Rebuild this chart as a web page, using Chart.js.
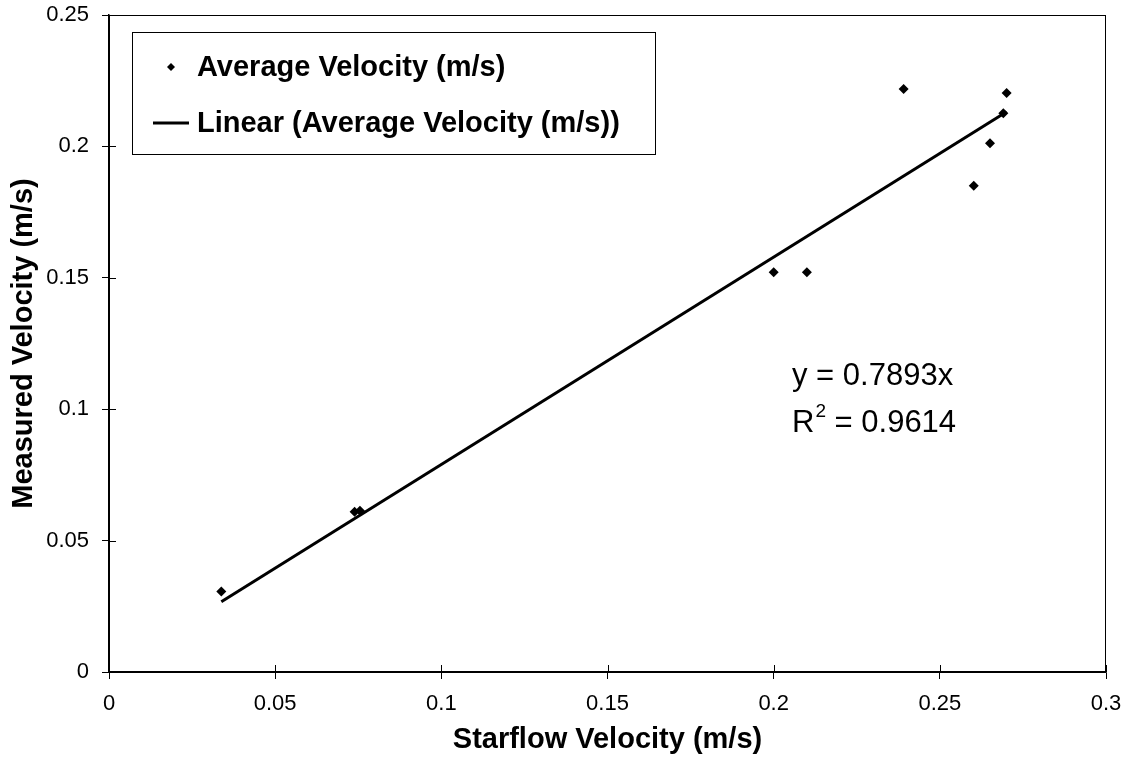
<!DOCTYPE html>
<html>
<head>
<meta charset="utf-8">
<script src="https://cdn.jsdelivr.net/npm/chart.js@4/dist/chart.umd.min.js"></script>
<style>
  html, body { margin: 0; padding: 0; background: #fff; }
  #wrap { width: 1128px; height: 761px; }
</style>
</head>
<body>
<div id="wrap"><canvas id="grafica"></canvas></div>
<script>
// valores
const starflowX = [0.0338, 0.0739, 0.0755, 0.2000, 0.2100, 0.2391, 0.2602, 0.2651, 0.2691, 0.2701];
const measuredY = [0.0306, 0.0610, 0.0614, 0.1521, 0.1521, 0.2218, 0.1850, 0.2012, 0.2126, 0.2203];
const trendX = [0.0338, 0.2701];
const trendY = [0.0267, 0.2132];
const xTicks = [0, 0.05, 0.1, 0.15, 0.2, 0.25, 0.3];
const yTicks = [0, 0.05, 0.1, 0.15, 0.2, 0.25];
const equationText = 'y = 0.7893x';
const r2Text = '0.9614';

const fuente = '"Liberation Sans", Arial, sans-serif';

const puntos = starflowX.map((x, i) => ({ x: x, y: measuredY[i] }));
const tendencia = trendX.map((x, i) => ({ x: x, y: trendY[i] }));

// marco, ticks cruzados, leyenda y ecuacion
const extras = {
    id: 'extras',
    afterDraw(chart) {
        const ctx = chart.ctx;
        const a = chart.chartArea;
        const sx = chart.scales.x, sy = chart.scales.y;
        ctx.save();
        ctx.strokeStyle = '#000';
        ctx.lineWidth = 1;
        ctx.strokeRect(a.left + 0.5, a.top + 0.5, a.right - a.left - 1, a.bottom - a.top);
        // parte interior de los ticks
        ctx.beginPath();
        xTicks.forEach(v => {
            const px = Math.round(sx.getPixelForValue(v)) + 0.5;
            ctx.moveTo(px, a.bottom);
            ctx.lineTo(px, a.bottom - 7);
        });
        yTicks.forEach(v => {
            const py = Math.round(sy.getPixelForValue(v)) + 0.5;
            ctx.moveTo(a.left, py);
            ctx.lineTo(a.left + 7, py);
        });
        ctx.stroke();

        // leyenda
        const lx = 132, ly = 32, lw = 523, lh = 122;
        ctx.fillStyle = '#fff';
        ctx.fillRect(lx, ly, lw, lh);
        ctx.strokeRect(lx + 0.5, ly + 0.5, lw, lh);
        const ds = chart.data.datasets;
        ctx.fillStyle = '#000';
        ctx.font = 'bold 29px ' + fuente;
        ctx.textBaseline = 'middle';
        ctx.textAlign = 'left';
        // fila 1: marcador
        const cy1 = ly + 35, cy2 = ly + 91;
        ctx.beginPath();
        ctx.moveTo(lx + 39 - 4, cy1);
        ctx.lineTo(lx + 39, cy1 - 4);
        ctx.lineTo(lx + 39 + 4, cy1);
        ctx.lineTo(lx + 39, cy1 + 4);
        ctx.closePath();
        ctx.fill();
        ctx.fillText(ds[0].label, lx + 65, cy1 + 1);
        // fila 2: linea
        ctx.beginPath();
        ctx.lineWidth = 3;
        ctx.moveTo(lx + 21, cy2);
        ctx.lineTo(lx + 57, cy2);
        ctx.stroke();
        ctx.fillText(ds[1].label, lx + 65, cy2 + 1);

        // ecuacion
        ctx.font = '31px ' + fuente;
        ctx.textBaseline = 'alphabetic';
        const ex = 792;
        ctx.fillText(equationText, ex, 385);
        ctx.fillText('R', ex, 432);
        const rw = ctx.measureText('R').width;
        ctx.font = '19px ' + fuente;
        ctx.fillText('2', ex + rw + 1, 417);
        const sw = ctx.measureText('2').width;
        ctx.font = '31px ' + fuente;
        ctx.fillText(' = ' + r2Text, ex + rw + sw + 1, 432);
        ctx.restore();
    }
};

const ctx = document.getElementById('grafica').getContext('2d');
window.grafica = new Chart(ctx, {
    type: 'scatter',
    data: {
        datasets: [{
            label: 'Average Velocity (m/s)',
            data: puntos,
            pointStyle: 'rectRot',
            pointRadius: 5,
            pointHoverRadius: 5,
            backgroundColor: '#000',
            borderColor: '#000',
            borderWidth: 0,
            order: 1
        }, {
            label: 'Linear (Average Velocity (m/s))',
            type: 'line',
            data: tendencia,
            borderColor: '#000',
            borderWidth: 3,
            pointRadius: 0,
            fill: false,
            tension: 0,
            order: 2
        }]
    },
    options: {
        responsive: true,
        maintainAspectRatio: false,
        animation: false,
        events: [],
        layout: { padding: { top: 15, right: 22, left: 0, bottom: 0 } },
        plugins: {
            legend: { display: false },
            tooltip: { enabled: false }
        },
        scales: {
            x: {
                type: 'linear',
                min: 0,
                max: 0.3,
                afterBuildTicks: (s) => { s.ticks = xTicks.map(v => ({ value: v })); },
                afterFit: (s) => { s.height = 89; s.paddingLeft = 0; s.paddingRight = 0; },
                border: { display: true, color: '#000', width: 1.5 },
                grid: { drawOnChartArea: false, drawTicks: true, tickLength: 7, color: '#000' },
                ticks: {
                    color: '#000',
                    padding: 12,
                    maxRotation: 0,
                    font: { family: fuente, size: 22 },
                    callback: (v) => String(v)
                },
                title: {
                    display: true,
                    text: 'Starflow Velocity (m/s)',
                    color: '#000',
                    font: { family: fuente, size: 29, weight: 'bold', lineHeight: 1.2 },
                    padding: { top: 0, bottom: 4 }
                }
            },
            y: {
                type: 'linear',
                min: 0,
                max: 0.25,
                afterBuildTicks: (s) => { s.ticks = yTicks.map(v => ({ value: v })); },
                afterFit: (s) => { s.width = 109; s.paddingTop = 0; s.paddingBottom = 0; },
                border: { display: true, color: '#000', width: 1.5 },
                grid: { drawOnChartArea: false, drawTicks: true, tickLength: 7, color: '#000' },
                ticks: {
                    color: '#000',
                    padding: 13,
                    font: { family: fuente, size: 22 },
                    callback: (v) => String(v)
                },
                title: {
                    display: true,
                    text: 'Measured Velocity (m/s)',
                    color: '#000',
                    font: { family: fuente, size: 29, weight: 'bold', lineHeight: 1.2 },
                    padding: { top: 7, bottom: 0 }
                }
            }
        }
    },
    plugins: [extras]
});
</script>
</body>
</html>
